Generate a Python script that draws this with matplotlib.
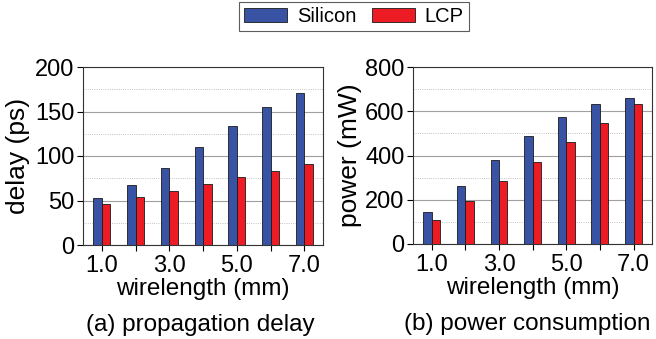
import matplotlib.pyplot as plt
from matplotlib.ticker import MultipleLocator
import numpy as np

plt.rcParams['font.family'] = ['Liberation Sans', 'DejaVu Sans']

wirelength = [1, 2, 3, 4, 5, 6, 7]
tick_labels = ["1.0", "", "3.0", "", "5.0", "", "7.0"]
delay_silicon = [53, 67.5, 87, 110, 134, 155, 171]
delay_lcp = [46.5, 54, 61, 68.5, 76, 83.5, 91]
power_silicon = [145, 264, 380, 489, 575, 632, 660]
power_lcp = [107, 195, 284, 371, 459, 546, 632]

blue = "#3953a4"
red = "#ed1c24"

fig = plt.figure(figsize=(6.56, 3.39), dpi=100)
ax1 = fig.add_axes([83 / 656, 1 - 245 / 339, 240 / 656, 178 / 339])
ax2 = fig.add_axes([413 / 656, 1 - 244 / 339, 239 / 656, 177 / 339])

x = np.array(wirelength)
w = 0.25


def draw(ax, si, lcp, ymax, major, ylabel, caption, ylab_x, cap_dx):
    ax.yaxis.set_major_locator(MultipleLocator(major))
    ax.yaxis.set_minor_locator(MultipleLocator(major / 2))
    ax.grid(True, which='major', axis='y', color='#a0a0a0', lw=0.8)
    ax.grid(True, which='minor', axis='y', color='#b0b0b0', lw=0.6, ls=':')
    ax.set_axisbelow(True)
    b1 = ax.bar(x - w / 2, si, w, color=blue, edgecolor='#1a1a1a', lw=0.6, label="Silicon")
    b2 = ax.bar(x + w / 2, lcp, w, color=red, edgecolor='#1a1a1a', lw=0.6, label="LCP")
    ax.set_xlim(0.44, 7.55)
    ax.set_ylim(0, ymax)
    ax.set_xticks(wirelength)
    ax.set_xticklabels(tick_labels)
    ax.tick_params(axis='both', which='major', labelsize=17, length=4, width=0.8, pad=2)
    ax.tick_params(axis='x', which='major', pad=3)
    ax.tick_params(axis='y', which='minor', length=0)
    ax.set_ylabel(ylabel, fontsize=19)
    ax.yaxis.set_label_coords(ylab_x, 0.5)
    ax.text(0.5, -0.25, "wirelength (mm)", transform=ax.transAxes,
            ha='center', va='center', fontsize=17.5)
    ax.text(0.5 + cap_dx, -0.45, caption, transform=ax.transAxes,
            ha='center', va='center', fontsize=17.5)
    for s in ax.spines.values():
        s.set_color('#333333')
        s.set_linewidth(0.8)
    return b1, b2


b1, b2 = draw(ax1, delay_silicon, delay_lcp, 200, 50, "delay (ps)",
              "(a) propagation delay", -0.22, -0.01)
draw(ax2, power_silicon, power_lcp, 800, 200, "power (mW)",
     "(b) power consumption", -0.213, -0.02)

leg = fig.legend(handles=[b1, b2], loc='upper center', bbox_to_anchor=(354 / 656, 1.0 - 2 / 339),
                 ncol=2, fontsize=14.5, frameon=True, fancybox=False, handlelength=2.1,
                 handleheight=0.75, columnspacing=0.8, handletextpad=0.5, borderpad=0.25,
                 borderaxespad=0)
leg.get_frame().set_edgecolor('#333333')
leg.get_frame().set_linewidth(0.8)

fig.savefig("out.png", dpi=100)
